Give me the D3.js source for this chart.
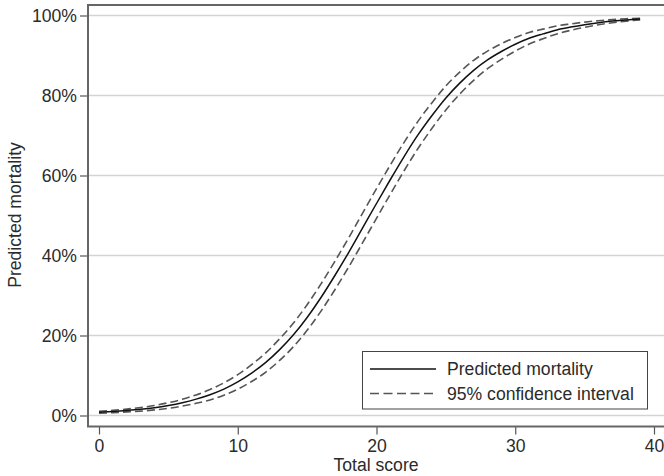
<!DOCTYPE html>
<html>
<head>
<meta charset="utf-8">
<script src="https://cdn.jsdelivr.net/npm/d3@7"></script>
<style>
  body { margin: 0; background: #fff; }
  text { font-family: "Liberation Sans", Arial, Helvetica, sans-serif; }
</style>
</head>
<body>
<div id="chart"></div>
<script>
// data: predicted mortality (%) by total score
var scores = d3.range(0, 40);
var predicted = [0.8, 1.0, 1.25, 1.55, 1.95, 2.5, 3.2, 4.1, 5.2, 6.6,
  8.4, 10.6, 13.2, 16.4, 20.1, 24.5, 29.5, 35.0, 40.8, 46.9,
  53.0, 59.0, 64.8, 70.2, 75.0, 79.4, 83.1, 86.3, 88.9, 91.0,
  92.8, 94.3, 95.4, 96.4, 97.1, 97.7, 98.2, 98.6, 98.9, 99.1];
var ciUpper = [1.05, 1.3, 1.6, 2.0, 2.5, 3.2, 4.05, 5.15, 6.5, 8.15,
  10.2, 12.7, 15.6, 19.1, 23.05, 27.7, 32.9, 38.55, 44.45, 50.6,
  56.7, 62.65, 68.35, 73.6, 78.2, 82.4, 85.85, 88.8, 91.1, 92.95,
  94.5, 95.75, 96.6, 97.4, 97.9, 98.35, 98.7, 99.0, 99.2, 99.3];
var ciLower = [0.55, 0.7, 0.9, 1.1, 1.4, 1.8, 2.35, 3.05, 3.9, 5.05,
  6.6, 8.5, 10.8, 13.7, 17.15, 21.3, 26.1, 31.45, 37.15, 43.2,
  49.3, 55.35, 61.25, 66.8, 71.8, 76.4, 80.35, 83.8, 86.7, 89.05,
  91.1, 92.85, 94.2, 95.4, 96.3, 97.05, 97.7, 98.2, 98.6, 98.9];
var xTicks = [0, 10, 20, 30, 40];
var yTicks = [0, 20, 40, 60, 80, 100];
var legendLabels = ['Predicted mortality', '95% confidence interval'];

var width = 664, height = 476;
var frameLeft = 88, frameTop = 5, frameBottom = 426.5;
var fontSize = 17.6;

var svg = d3.select('#chart')
  .append('svg')
    .attr('width', width)
    .attr('height', height);

var x = d3.scaleLinear().domain([0, 40]).range([99, 654]);
var y = d3.scaleLinear().domain([0, 100]).range([415.5, 15.5]);

// grid lines
svg.append('g')
  .selectAll('line')
  .data(yTicks)
  .enter().append('line')
    .attr('x1', frameLeft)
    .attr('x2', width)
    .attr('y1', function(d) { return y(d); })
    .attr('y2', function(d) { return y(d); })
    .attr('stroke', '#d4d4d4')
    .attr('stroke-width', 1.5);

// y axis
var yAxis = svg.append('g')
  .attr('transform', 'translate(' + frameLeft + ',0)')
  .call(d3.axisLeft(y).tickValues(yTicks).tickSize(8).tickPadding(3)
    .tickFormat(function(d) { return d + '%'; }));
yAxis.select('.domain').remove();
yAxis.selectAll('line').attr('stroke', '#555').attr('stroke-width', 1.2);
yAxis.selectAll('text')
  .attr('font-size', fontSize)
  .attr('font-family', '"Liberation Sans", Arial, sans-serif')
  .attr('fill', '#2b2b2b');

// x axis
var xAxis = svg.append('g')
  .attr('transform', 'translate(0,' + frameBottom + ')')
  .call(d3.axisBottom(x).tickValues(xTicks).tickSize(8).tickPadding(5));
xAxis.select('.domain').remove();
xAxis.selectAll('line').attr('stroke', '#555').attr('stroke-width', 1.2);
xAxis.selectAll('text')
  .attr('font-size', fontSize)
  .attr('font-family', '"Liberation Sans", Arial, sans-serif')
  .attr('fill', '#2b2b2b');

// frame
svg.append('path')
  .attr('d', 'M' + (width + 2) + ',' + frameTop + 'H' + frameLeft + 'V' + frameBottom + 'H' + (width + 2))
  .attr('fill', 'none')
  .attr('stroke', '#666')
  .attr('stroke-width', 2);

// axis titles
svg.append('text')
  .attr('x', 376)
  .attr('y', 471)
  .attr('text-anchor', 'middle')
  .attr('font-size', fontSize)
  .attr('fill', '#2b2b2b')
  .text('Total score');

svg.append('text')
  .attr('transform', 'translate(21,' + 215 + ') rotate(-90)')
  .attr('text-anchor', 'middle')
  .attr('font-size', fontSize)
  .attr('fill', '#2b2b2b')
  .text('Predicted mortality');

// curves
var line = function(values) {
  return d3.line()
    .x(function(d, i) { return x(scores[i]); })
    .y(function(d) { return y(d); })
    .curve(d3.curveMonotoneX)(values);
};

[ciUpper, ciLower].forEach(function(values) {
  svg.append('path')
    .attr('d', line(values))
    .attr('fill', 'none')
    .attr('stroke', '#555')
    .attr('stroke-width', 1.6)
    .attr('stroke-dasharray', '8 4');
});

svg.append('path')
  .attr('d', line(predicted))
  .attr('fill', 'none')
  .attr('stroke', '#111')
  .attr('stroke-width', 1.5);

// legend
var legend = svg.append('g');
legend.append('rect')
  .attr('x', 362.5)
  .attr('y', 351.5)
  .attr('width', 285)
  .attr('height', 57.5)
  .attr('fill', '#fff')
  .attr('stroke', '#444')
  .attr('stroke-width', 1);

var rows = legend.selectAll('.legendRow')
  .data(legendLabels)
  .enter().append('g')
    .attr('class', 'legendRow')
    .attr('transform', function(d, i) { return 'translate(370,' + (369 + i * 24.5) + ')'; });

rows.append('line')
  .attr('x1', 0)
  .attr('x2', 66)
  .attr('stroke', function(d, i) { return i === 0 ? '#111' : '#555'; })
  .attr('stroke-width', 1.5)
  .attr('stroke-dasharray', function(d, i) { return i === 0 ? null : '9 4.5'; });

rows.append('text')
  .attr('x', 77)
  .attr('dy', '0.35em')
  .attr('font-size', fontSize)
  .attr('fill', '#2b2b2b')
  .text(function(d) { return d; });
</script>
</body>
</html>
